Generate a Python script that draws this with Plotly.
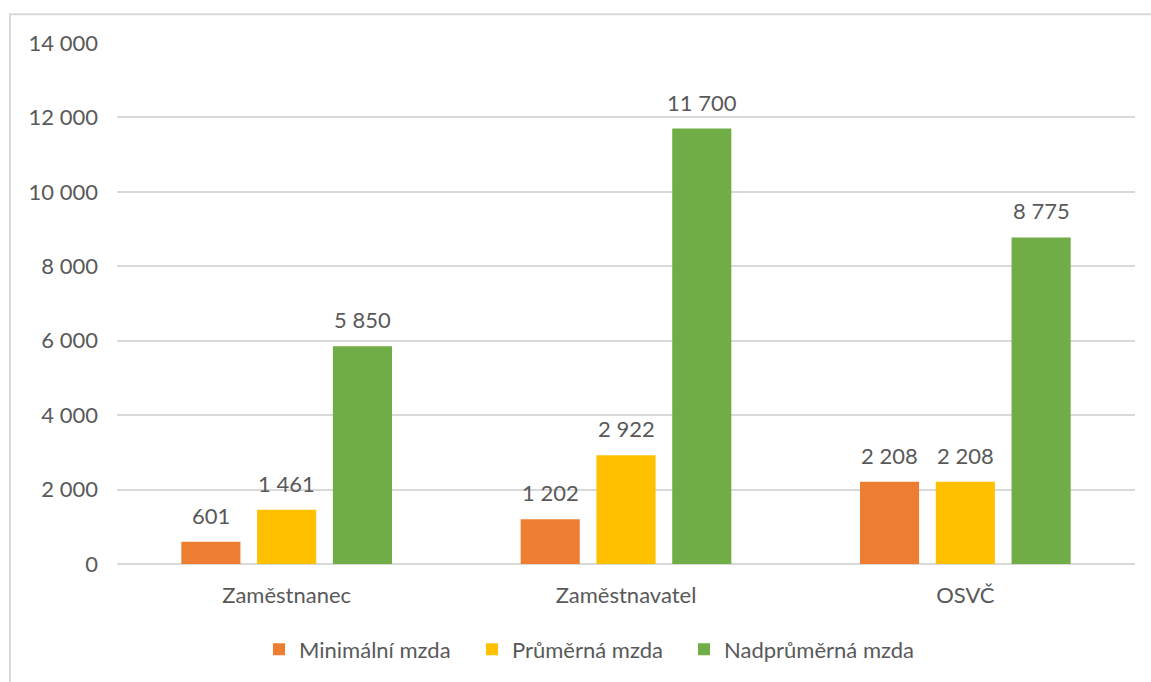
import plotly.graph_objects as go

categories = ["Zaměstnanec", "Zaměstnavatel", "OSVČ"]
series_names = ["Minimální mzda", "Průměrná mzda", "Nadprůměrná mzda"]
minimalni = [601, 1202, 2208]
prumerna = [1461, 2922, 2208]
nadprumerna = [5850, 11700, 8775]
colors = ["#ED7D31", "#FFC000", "#70AD47"]

FONT = "Lato, 'Open Sans', sans-serif"
TEXT = "#595959"
SIZE = 22

# plot area geometry (px) used to place value labels and legend entries
PLOT_L, PLOT_T = 117, 43
PLOT_W = 1151 - 117 - 16
PLOT_H = 682 - 43 - 115
BARGAP = 0.33
slot = PLOT_W / len(categories) * (1 - BARGAP) / len(series_names)

# left edge (px) of each legend entry, one legend box per series
legend_left_px = [259, 472, 684]
legend_names = ["legend", "legend2", "legend3"]

fig = go.Figure()
annotations = []
all_series = [minimalni, prumerna, nadprumerna]
for i, (name, vals, col) in enumerate(zip(series_names, all_series, colors)):
    fig.add_trace(go.Bar(
        name=name, x=categories, y=vals,
        marker=dict(color=col, line=dict(width=0)),
        legend=legend_names[i],
    ))
    for cat, v in zip(categories, vals):
        annotations.append(dict(
            x=cat, y=v, xref="x", yref="y",
            text=f"{v:,}".replace(",", " "),
            showarrow=False, yanchor="bottom", xanchor="center",
            xshift=(i - 1) * slot, yshift=11,
            font=dict(family=FONT, size=SIZE, color=TEXT),
        ))

legend_layout = {}
for lname, left in zip(legend_names, legend_left_px):
    legend_layout[lname] = dict(
        orientation="h", x=(left - PLOT_L) / PLOT_W, xanchor="left",
        y=(PLOT_T + PLOT_H - 653) / PLOT_H, yanchor="middle",
        itemwidth=30, bgcolor="rgba(0,0,0,0)",
        font=dict(family=FONT, size=SIZE, color=TEXT),
    )

fig.update_layout(
    width=1151, height=682,
    margin=dict(l=117, r=16, t=43, b=115),
    paper_bgcolor="white", plot_bgcolor="white",
    separators=", ",
    barmode="group", bargap=BARGAP, bargroupgap=0.22,
    font=dict(family=FONT, color=TEXT, size=SIZE),
    showlegend=True,
    **legend_layout,
    xaxis=dict(showgrid=False, showline=False, ticks="", ticklabelstandoff=16,
               automargin=False,
               tickfont=dict(family=FONT, size=SIZE, color=TEXT)),
    yaxis=dict(range=[0, 14000], dtick=2000, tickformat=",d",
               showgrid=True, gridcolor="#D9D9D9", gridwidth=1.5,
               zeroline=True, zerolinecolor="#D9D9D9", zerolinewidth=1.5,
               showline=False, ticks="", ticklabelstandoff=18, automargin=False,
               tickfont=dict(family=FONT, size=SIZE, color=TEXT)),
    annotations=annotations,
    shapes=[dict(type="rect", xref="paper", yref="paper",
                 x0=(10 - PLOT_L) / PLOT_W, x1=(1170 - PLOT_L) / PLOT_W,
                 y0=(PLOT_T + PLOT_H - 700) / PLOT_H, y1=(PLOT_T + PLOT_H - 14) / PLOT_H,
                 line=dict(color="#D9D9D9", width=2), layer="below")],
)

fig.write_html("out.html")
